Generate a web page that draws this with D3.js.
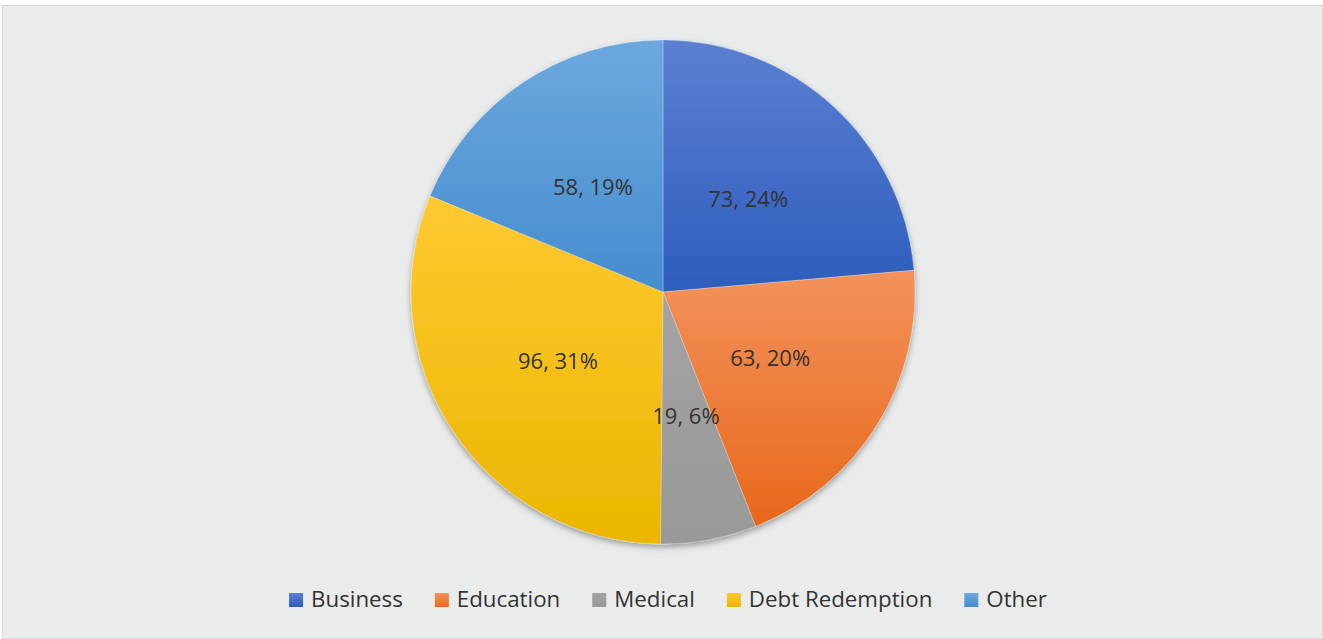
<html>
<head>
<script src="https://cdn.jsdelivr.net/npm/d3@7/dist/d3.min.js"></script>
<style>
  body { margin: 0; background: #fff; }
  text { font-family: "Open Sans", "Noto Sans", sans-serif; fill: #333; }
</style>
</head>
<body>
<div id="chart"></div>
<script>
  // data
  var categories = ["Business", "Education", "Medical", "Debt Redemption", "Other"];
  var values = [73, 63, 19, 96, 58];
  var colorTop = ["#5b80d1", "#f2925c", "#a3a3a3", "#ffc932", "#6ca8de"];
  var colorBottom = ["#2d5dbd", "#e8681b", "#999999", "#ebb600", "#468dcf"];

  var W = 1323, H = 639;
  var cx = 663, cy = 292, radius = 252;

  var svg = d3.select("#chart").append("svg")
    .attr("width", W).attr("height", H);

  // chart area with thin border
  svg.append("rect")
    .attr("x", 2.5).attr("y", 5.5).attr("width", W - 3).attr("height", H - 6)
    .style("fill", "#eaeceb").style("stroke", "#d9d9d9").style("stroke-width", 1);

  var defs = svg.append("defs");
  var shadow = defs.append("filter").attr("id", "shadow")
    .attr("x", "-10%").attr("y", "-10%").attr("width", "120%").attr("height", "120%");
  shadow.append("feDropShadow")
    .attr("dx", 0).attr("dy", 3).attr("stdDeviation", 3)
    .attr("flood-color", "#000").attr("flood-opacity", 0.35);

  categories.forEach(function(c, i) {
    var gr = defs.append("linearGradient").attr("id", "grad" + i)
      .attr("x1", 0).attr("y1", 0).attr("x2", 0).attr("y2", 1);
    gr.append("stop").attr("offset", "0%").attr("stop-color", colorTop[i]);
    gr.append("stop").attr("offset", "100%").attr("stop-color", colorBottom[i]);
  });

  var total = d3.sum(values);
  var pie = d3.pie().sort(null).value(function(d) { return d; });
  var arc = d3.arc().innerRadius(0).outerRadius(radius);
  var arcs = pie(values);

  var g = svg.append("g").attr("transform", "translate(" + cx + "," + cy + ")");

  g.append("g").attr("filter", "url(#shadow)")
    .selectAll("path")
    .data(arcs)
    .enter().append("path")
      .attr("d", arc)
      .style("fill", function(d, i) { return "url(#grad" + i + ")"; })
      .style("stroke", "rgba(255,255,255,0.35)")
      .style("stroke-width", 0.75);

  // data labels: "value, percent"
  g.selectAll(".lbl")
    .data(arcs)
    .enter().append("text")
      .attr("class", "lbl")
      .attr("transform", function(d) { return "translate(" + arc.centroid(d) + ")"; })
      .attr("text-anchor", "middle")
      .attr("dy", "0.35em")
      .style("font-size", "22px")
      .text(function(d) { return d.data + ", " + Math.round(d.data / total * 100) + "%"; });

  // legend
  var legend = svg.append("g");
  var items = legend.selectAll("g")
    .data(categories)
    .enter().append("g");
  items.append("rect")
    .attr("width", 14).attr("height", 14).attr("y", -14)
    .style("fill", function(d, i) { return "url(#grad" + i + ")"; });
  items.append("text")
    .attr("x", 22).attr("y", 0)
    .style("font-size", "22.3px")
    .text(function(d) { return d; });

  var gap = 32;
  var xpos = 0;
  items.each(function() {
    var w = d3.select(this).select("text").node().getComputedTextLength();
    d3.select(this).attr("transform", "translate(" + xpos + ",0)");
    xpos += 22 + w + gap;
  });
  var legendW = xpos - gap;
  legend.attr("transform", "translate(" + (668 - legendW / 2) + ",607)");
</script>
</body>
</html>
